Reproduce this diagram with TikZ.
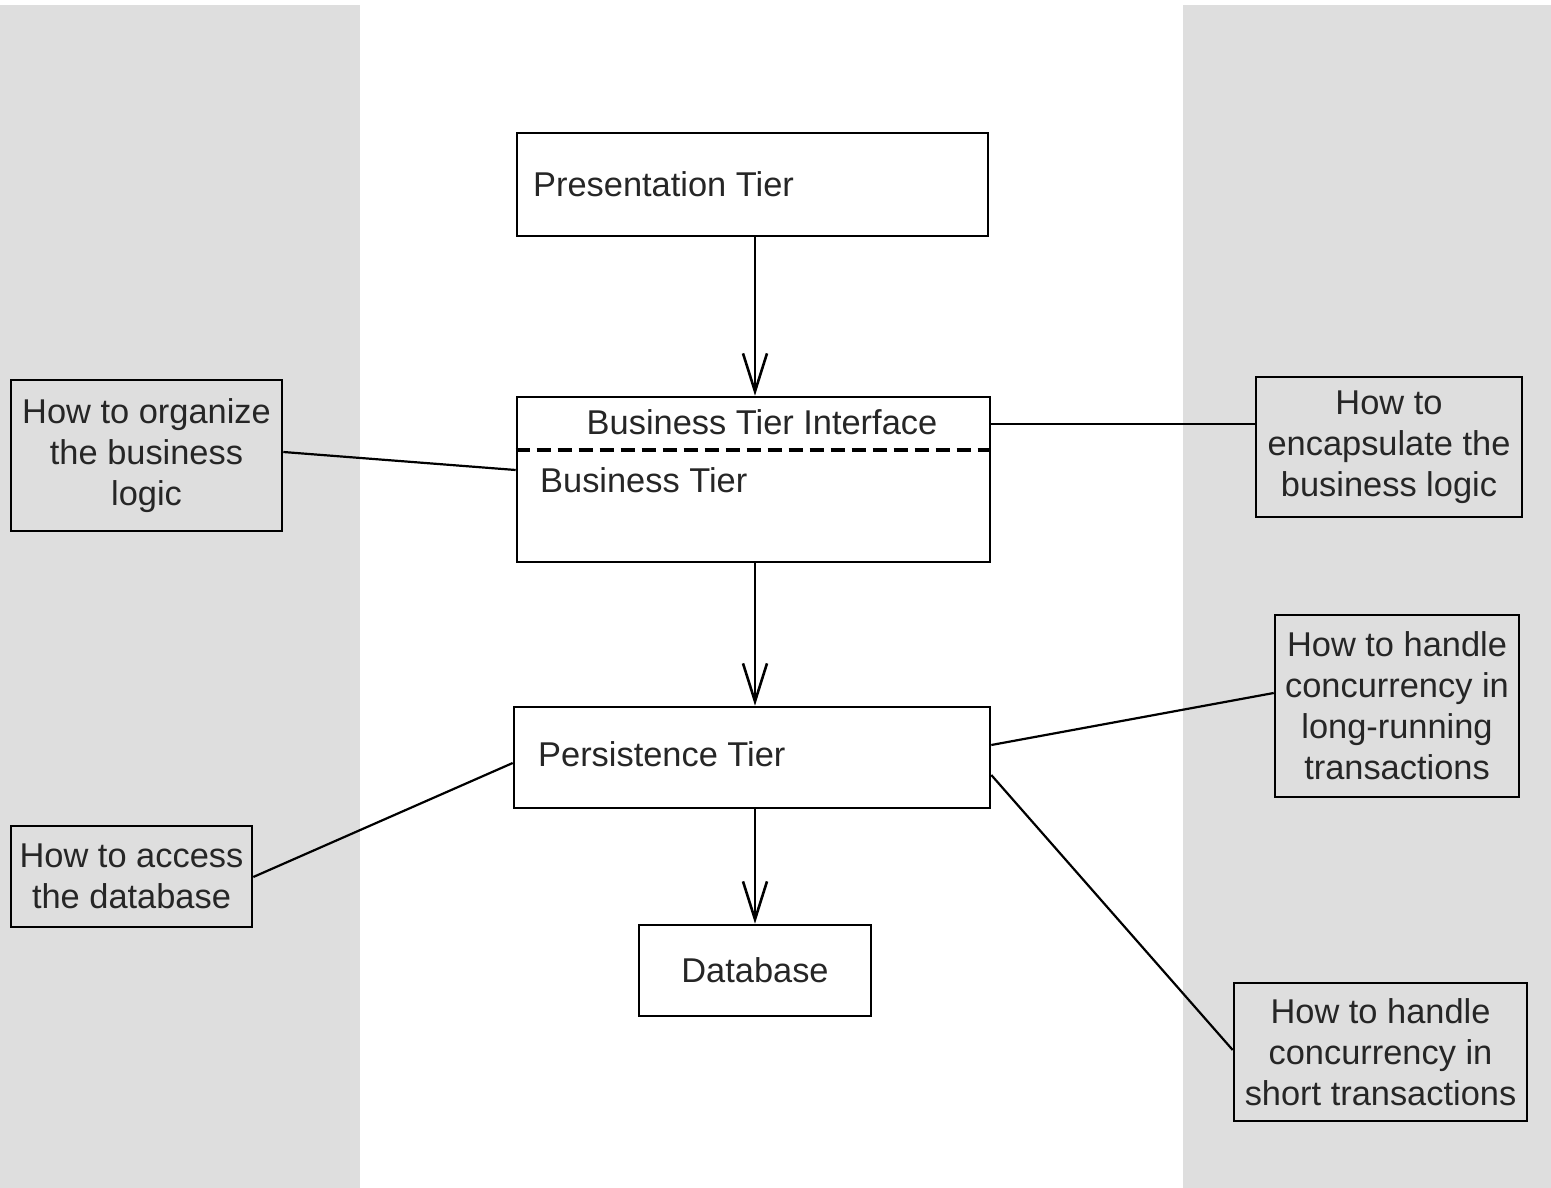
\documentclass[tikz,border=0pt]{standalone}
\usepackage{fontspec}
\setmainfont{Liberation Sans}
\usetikzlibrary{arrows.meta}
\definecolor{panel}{HTML}{DEDEDE}
\begin{document}
\begin{tikzpicture}[x=1pt,y=-1pt,
  txt/.style={font=\fontsize{34.4}{41}\selectfont, inner sep=0pt, text=black!85},
  tier/.style={draw, line width=2.6pt, fill=white, rectangle, inner sep=0pt},
  issue/.style={draw, line width=2.6pt, fill=panel, rectangle, inner sep=0pt, align=center,
    font=\fontsize{34.4}{41}\selectfont, text=black!85},
  link/.style={line width=2.2pt},
  flow/.style={line width=2.2pt, -{Straight Barb[length=38pt,width=24pt,line width=2.6pt]}}]
  \useasboundingbox (0,0) rectangle (1551,1188);
  \fill[white] (0,0) rectangle (1551,1188);
  % side panels
  \fill[panel] (0,5) rectangle (360,1188);
  \fill[panel] (1183,5) rectangle (1551,1188);

  % tiers
  \node[tier, minimum width=471pt, minimum height=103pt] (pres) at (752.5,184.5) {};
  \node[txt, anchor=west] (presl) at (533,184) {Presentation Tier};

  \node[tier, minimum width=473pt, minimum height=165pt] (bus) at (753.5,479.5) {};
  \node[txt] (busif) at (762,422) {Business Tier Interface};
  \draw[line width=3.5pt, dash pattern=on 14pt off 7pt] (bus.west |- 0,450) coordinate (dl) -- (bus.east |- 0,450) coordinate (dr);
  \node[txt, anchor=west] (busl) at (540,480) {Business Tier};

  \node[tier, minimum width=476pt, minimum height=101pt] (pers) at (752,757.5) {};
  \node[txt, anchor=west] (persl) at (538,754) {Persistence Tier};

  \node[tier, minimum width=232pt, minimum height=91pt] (db) at (755,970.5) {};
  \node[txt] (dbl) at (755,970) {Database};

  % design issues
  \node[issue, minimum width=271pt, minimum height=151pt] (org) at (146.5,455.5)
    {How to organize\\the business\\logic};
  \node[issue, minimum width=241pt, minimum height=101pt] (acc) at (131.5,876.5)
    {How to access\\the database};
  \node[issue, minimum width=266pt, minimum height=140pt] (enc) at (1389,447)
    {How to\\encapsulate the\\business logic};
  \node[issue, minimum width=244pt, minimum height=182pt] (lng) at (1397,706)
    {How to handle\\concurrency in\\long-running\\transactions};
  \node[issue, minimum width=293pt, minimum height=138pt] (sht) at (1380.5,1052)
    {How to handle\\concurrency in\\short transactions};

  % flow between tiers, on one vertical axis
  \draw[flow] (pres.south -| db.north) -- (bus.north -| db.north);
  \draw[flow] (bus.south -| db.north) -- (pers.north -| db.north);
  \draw[flow] (pers.south -| db.north) -- (db.north);

  % issue links
  \draw[link] (org.east |- 0,452) -- (bus.west |- 0,470);
  \draw[link] (enc.west |- 0,424) -- (bus.east |- 0,424);
  \draw[link] (pers.east |- 0,745) -- (lng.west |- 0,693);
  \draw[link] (pers.east |- 0,775) -- (sht.west |- 0,1050);
  \draw[link] (acc.east |- 0,877) -- (pers.west |- 0,763);
\end{tikzpicture}
\end{document}
